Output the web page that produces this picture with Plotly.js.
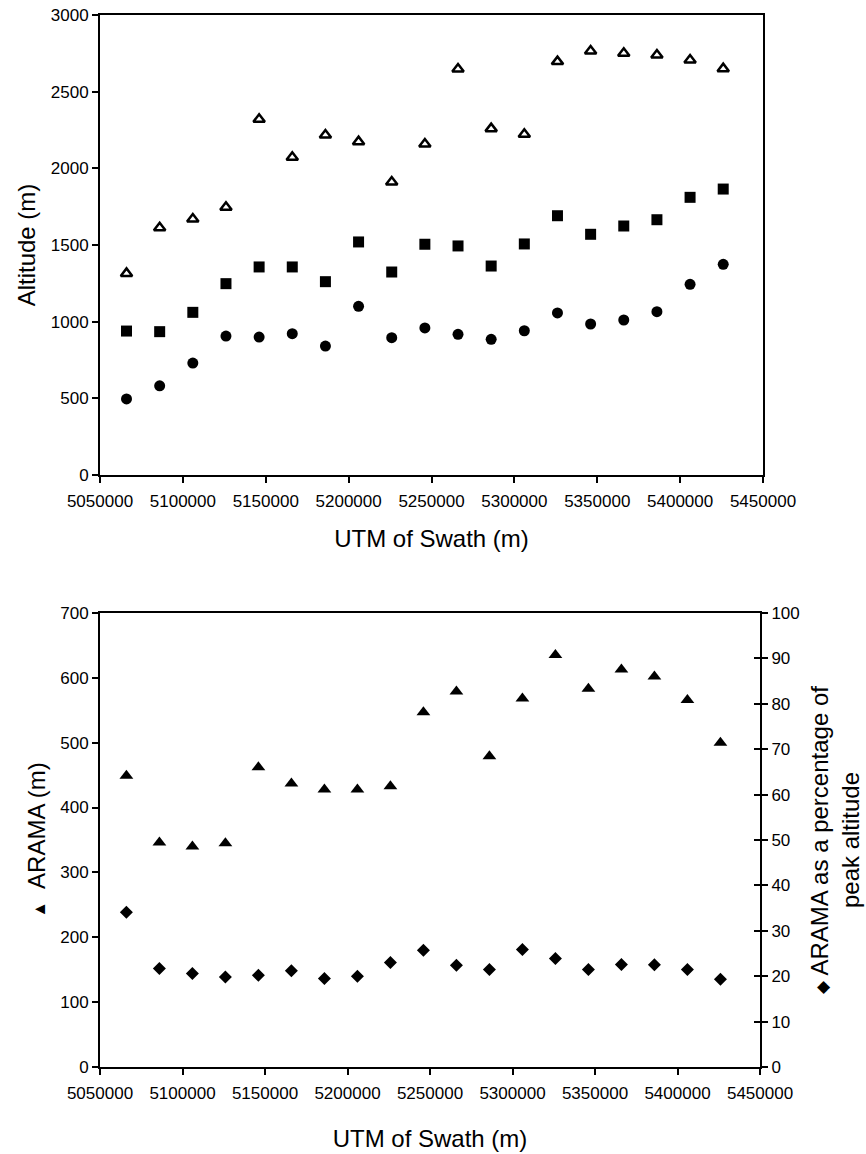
<!DOCTYPE html>
<html>
<head>
<meta charset="utf-8">
<script src="https://cdn.plot.ly/plotly-3.0.1.min.js"></script>
<style>html,body{margin:0;padding:0;background:#fff;}#chart{width:866px;height:1154px;}</style>
</head>
<body>
<div id="chart"></div>
<script>
// UTM of swath centres (m)
const utm = [5066000, 5086000, 5106000, 5126000, 5146000, 5166000, 5186000, 5206000, 5226000, 5246000,
             5266000, 5286000, 5306000, 5326000, 5346000, 5366000, 5386000, 5406000, 5426000];

// Top panel: altitudes (m)
const peakAlt = [1315, 1613, 1670, 1746, 2320, 2072, 2217, 2174, 1911, 2159,
                 2648, 2259, 2222, 2696, 2765, 2750, 2739, 2707, 2650];
const meanAlt = [939, 935, 1061, 1248, 1357, 1357, 1261, 1520, 1324, 1505,
                 1494, 1363, 1507, 1691, 1570, 1624, 1665, 1811, 1865];
const minAlt  = [496, 582, 730, 906, 900, 922, 841, 1100, 896, 959,
                 918, 885, 941, 1057, 985, 1011, 1065, 1244, 1374];

// Bottom panel: ARAMA (m) and ARAMA as % of peak altitude
const arama = [449, 346, 340, 345, 462, 437, 428, 428, 433, 547,
               579, 479, 568, 635, 583, 613, 602, 566, 500];
const aramaPct = [34.1, 21.7, 20.6, 19.8, 20.2, 21.2, 19.5, 20.0, 23.0, 25.7,
                  22.4, 21.5, 25.9, 23.9, 21.5, 22.6, 22.5, 21.5, 19.3];

const xTickVals = [5050000, 5100000, 5150000, 5200000, 5250000, 5300000, 5350000, 5400000, 5450000];

const FONT = 'Liberation Sans, Arial, sans-serif';
const tickFont = {family: FONT, size: 17, color: '#000'};
const titleFont = {family: FONT, size: 24, color: '#000'};

const traces = [
  {x: utm, y: peakAlt, xaxis: 'x', yaxis: 'y', mode: 'markers', type: 'scatter',
   marker: {symbol: 'triangle-up-open', size: 10, color: '#000', line: {width: 2.5, color: '#000'}}},
  {x: utm, y: meanAlt, xaxis: 'x', yaxis: 'y', mode: 'markers', type: 'scatter',
   marker: {symbol: 'square', size: 11, color: '#000'}},
  {x: utm, y: minAlt, xaxis: 'x', yaxis: 'y', mode: 'markers', type: 'scatter',
   marker: {symbol: 'circle', size: 11, color: '#000'}},
  {x: utm, y: arama, xaxis: 'x2', yaxis: 'y2', mode: 'markers', type: 'scatter',
   marker: {symbol: 'triangle-up', size: 12, color: '#000'}},
  {x: utm, y: aramaPct, xaxis: 'x2', yaxis: 'y3', mode: 'markers', type: 'scatter',
   marker: {symbol: 'diamond', size: 10, color: '#000'}}
];

const baseX = {
  range: [5050000, 5450000], tickvals: xTickVals, tickformat: 'd',
  showline: true, mirror: true, linewidth: 2, linecolor: '#000',
  ticks: 'outside', ticklen: 6, tickwidth: 2, tickcolor: '#000',
  showgrid: false, zeroline: false, tickfont: tickFont, ticklabelstandoff: 4
};

const layout = {
  width: 866, height: 1154,
  margin: {l: 100, r: 103, t: 15, b: 87},
  paper_bgcolor: '#fff', plot_bgcolor: '#fff',
  showlegend: false,
  xaxis: Object.assign({}, baseX, {domain: [0, 1], anchor: 'y',
    title: {text: 'UTM of Swath (m)', font: titleFont, standoff: 20}}),
  yaxis: {domain: [0.5627, 1], anchor: 'x', range: [0, 3000], dtick: 500,
    showline: true, mirror: true, linewidth: 2, linecolor: '#000',
    ticks: 'outside', ticklen: 6, tickwidth: 2, tickcolor: '#000',
    showgrid: false, zeroline: false, tickfont: tickFont,
    title: {text: 'Altitude (m)', font: titleFont, standoff: 8}},
  xaxis2: Object.assign({}, baseX, {domain: [0, 0.9955], anchor: 'y2',
    title: {text: 'UTM of Swath (m)', font: titleFont, standoff: 28}}),
  yaxis2: {domain: [0, 0.4316], anchor: 'x2', range: [0, 700], dtick: 100,
    showline: true, linewidth: 2, linecolor: '#000',
    ticks: 'outside', ticklen: 6, tickwidth: 2, tickcolor: '#000',
    showgrid: false, zeroline: false, tickfont: tickFont,
    title: {text: '<span style="font-size:17px">▲</span>  ARAMA (m)', font: titleFont, standoff: 8}},
  yaxis3: {overlaying: 'y2', side: 'right', anchor: 'x2', range: [0, 100], dtick: 10,
    showline: true, linewidth: 2, linecolor: '#000',
    ticks: 'outside', ticklen: 6, tickwidth: 2, tickcolor: '#000',
    showgrid: false, zeroline: false, tickfont: tickFont,
    title: {text: '<span style="font-size:17px">◆</span> ARAMA as a percentage of<br>peak altitude', font: titleFont, standoff: 12}},
  yaxis4: {overlaying: 'y2', side: 'right', anchor: 'x2', range: [0, 100], dtick: 10,
    showline: false, ticks: 'inside', ticklen: 6, tickwidth: 2, tickcolor: '#000',
    showticklabels: false, showgrid: false, zeroline: false}
};

// empty trace so the inner half of the crossing ticks (yaxis4) is drawn
traces.push({x: [], y: [], xaxis: 'x2', yaxis: 'y4', type: 'scatter', mode: 'markers'});

Plotly.newPlot('chart', traces, layout, {staticPlot: true, displayModeBar: false});
</script>
</body>
</html>
